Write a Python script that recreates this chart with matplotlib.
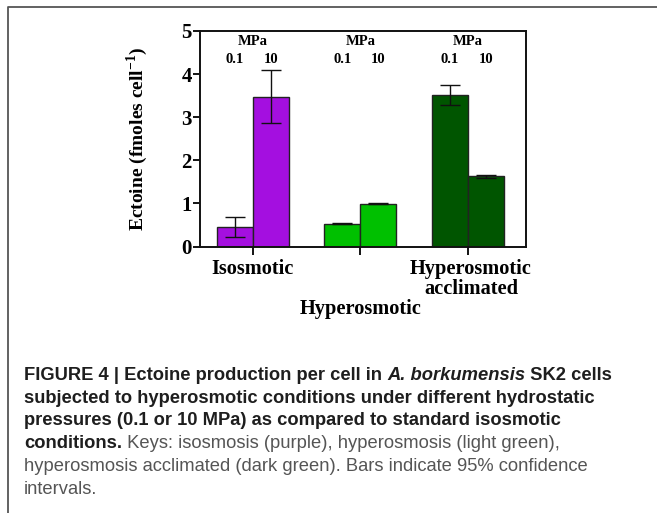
import numpy as np
import matplotlib.pyplot as plt
from matplotlib.lines import Line2D

# data
groups = ["Isosmotic", "Hyperosmotic", "Hyperosmotic\nacclimated"]
pressures = ["0.1", "10"]
low_p = [0.46, 0.53, 3.51]       # 0.1 MPa
high_p = [3.48, 0.99, 1.63]      # 10 MPa
low_err_lo = [0.24, 0.01, 0.23]
low_err_hi = [0.23, 0.01, 0.24]
high_err_lo = [0.62, 0.01, 0.04]
high_err_hi = [0.61, 0.01, 0.04]
colors = ["#A40FE0", "#00C000", "#005500"]

caption = [
    [("FIGURE 4 | Ectoine production per cell in ", "bold", "normal"),
     ("A. borkumensis", "bold", "italic"), (" SK2 cells", "bold", "normal")],
    [("subjected to hyperosmotic conditions under different hydrostatic", "bold", "normal")],
    [("pressures (0.1 or 10 MPa) as compared to standard isosmotic", "bold", "normal")],
    [("conditions.", "bold", "normal"),
     (" Keys: isosmosis (purple), hyperosmosis (light green),", "normal", "normal")],
    [("hyperosmosis acclimated (dark green). Bars indicate 95% confidence", "normal", "normal")],
    [("intervals.", "normal", "normal")],
]

serif = "Liberation Serif"
plt.rcParams["mathtext.fontset"] = "custom"
plt.rcParams["mathtext.rm"] = serif + ":bold"
plt.rcParams["mathtext.bf"] = serif + ":bold"

W, H = 657, 513
fig = plt.figure(figsize=(W / 100, H / 100), dpi=100)
ax = fig.add_axes([200 / W, 1 - 246.5 / H, 326 / W, 215.5 / H])

x = np.arange(len(groups))
bw = 0.334
for i in range(len(groups)):
    ax.bar(x[i] - bw / 2, low_p[i], bw, color=colors[i], edgecolor="#222222", linewidth=1)
    ax.bar(x[i] + bw / 2, high_p[i], bw, color=colors[i], edgecolor="#222222", linewidth=1)
ax.errorbar(x - bw / 2, low_p, yerr=[low_err_lo, low_err_hi], fmt="none",
            ecolor="#111111", elinewidth=1, capsize=7, capthick=1)
ax.errorbar(x + bw / 2, high_p, yerr=[high_err_lo, high_err_hi], fmt="none",
            ecolor="#111111", elinewidth=1, capsize=7, capthick=1)

ax.set_xlim(-0.49, 2.54)
ax.set_ylim(0, 5)
ax.set_yticks(range(6))
ax.set_yticklabels([str(v) for v in range(6)], fontfamily=serif, fontweight="bold", fontsize=15)
ax.set_xticks(x)
ax.set_xticklabels([])
ax.tick_params(axis="y", direction="out", length=5, width=1.3, pad=1)
ax.tick_params(axis="x", direction="out", length=6, width=1.3)
for s in ax.spines.values():
    s.set_linewidth(1.4)
    s.set_color("#111111")

ax.set_ylabel("Ectoine (fmoles cell$^{\\mathrm{-1}}$)", fontfamily=serif,
              fontweight="bold", fontsize=14)
ax.yaxis.set_label_coords(-0.153, 0.5)

tr = ax.get_xaxis_transform()
for i in range(len(groups)):
    ax.text(x[i], 0.950, "MPa", transform=tr, ha="center", va="center",
            fontfamily=serif, fontweight="bold", fontsize=10.5)
    ax.text(x[i] - bw / 2, 0.869, pressures[0], transform=tr, ha="center", va="center",
            fontfamily=serif, fontweight="bold", fontsize=10.5)
    ax.text(x[i] + bw / 2, 0.869, pressures[1], transform=tr, ha="center", va="center",
            fontfamily=serif, fontweight="bold", fontsize=10.5)

label_y = [-0.104, -0.290, -0.152]
for i, g in enumerate(groups):
    ax.text(x[i] + (0.03 if i == 2 else 0), label_y[i], g, transform=tr, ha="center",
            va="center", fontfamily=serif, fontweight="bold", fontsize=14.7,
            linespacing=1.0, clip_on=False)

# page border (top and left only)
fig.add_artist(Line2D([8 / W, 8 / W, 1], [0, 1 - 6.5 / H, 1 - 6.5 / H],
                      transform=fig.transFigure, color="#555555", lw=1.3))

# caption with mixed weights
renderer = fig.canvas.get_renderer()
base = 380
pitch = 22.7
for li, parts in enumerate(caption):
    xp = 24
    yp = 1 - (base + li * pitch) / H
    for txt, weight, style in parts:
        col = "#1e1e1e" if weight == "bold" else "#555555"
        t = fig.text(xp / W, yp, txt, fontfamily="Liberation Sans", fontsize=13.2,
                     fontweight=weight, fontstyle=style, color=col, va="baseline")
        bb = t.get_window_extent(renderer)
        xp += bb.width

fig.savefig("out.png", dpi=100)
